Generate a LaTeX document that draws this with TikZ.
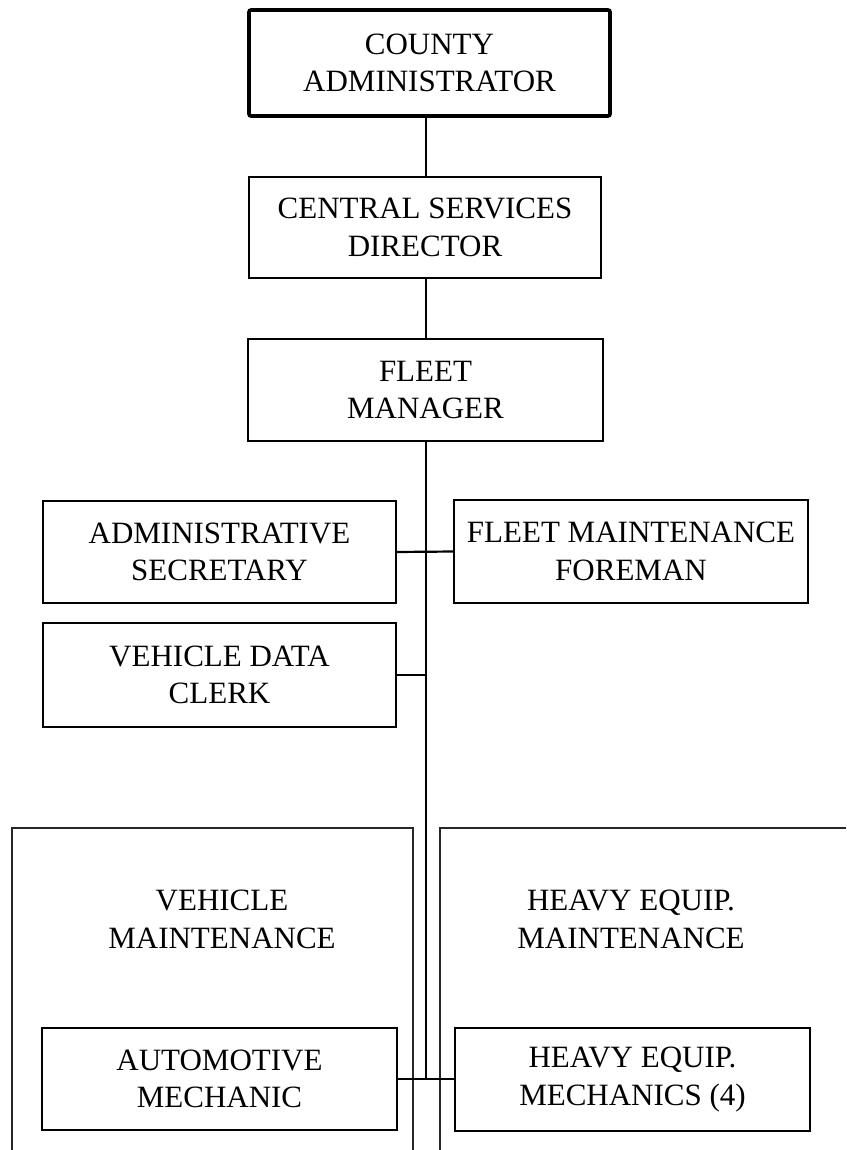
\documentclass[tikz,border=0pt]{standalone}
\usepackage{fontspec}
\setmainfont{Liberation Serif}
\begin{document}
\begin{tikzpicture}[x=1pt,y=-1pt,
  orgbox/.style={draw=black, line width=2.2pt, fill=white, rectangle,
    inner sep=0pt, outer sep=0pt, align=center,
    font=\fontsize{31}{37.5}\selectfont},
  topbox/.style={orgbox, line width=3.6pt, rounded corners=2pt},
  panellabel/.style={align=center, inner sep=0pt,
    font=\fontsize{31}{37.5}\selectfont},
  link/.style={draw=black, line width=2.2pt},
  panelline/.style={draw=black!85, line width=1.3pt}
]
% page frame
\fill[white] (0,0) rectangle (846,1150);
\useasboundingbox (0,0) rectangle (846,1150);

% the vertical spine of the chart
\coordinate (spine) at (426,0);

% section panels (open at the page edge)
\draw[panelline] (12,1150) -- (12,828) -- (413,828) -- (413,1150);
\draw[panelline] (846,828) -- (440,828) -- (440,1150);
\node[panellabel] (vmlabel) at (222,919.5) {VEHICLE\\MAINTENANCE};
\node[panellabel] (hmlabel) at (631,919.5) {HEAVY EQUIP.\\MAINTENANCE};

% positions
\node[topbox, minimum width=361pt, minimum height=106pt] (county) at (429.5,63)
  {COUNTY\\ADMINISTRATOR};
\node[orgbox, minimum width=352pt, minimum height=101pt] (central) at (425,227.5)
  {CENTRAL SERVICES\\DIRECTOR};
\node[orgbox, minimum width=355pt, minimum height=102pt] (fleet) at (425.5,390)
  {FLEET\\MANAGER};
\node[orgbox, minimum width=353pt, minimum height=102pt] (admin) at (219.5,552)
  {ADMINISTRATIVE\\SECRETARY};
\node[orgbox, minimum width=354pt, minimum height=103pt] (foreman) at (631,551.5)
  {FLEET MAINTENANCE\\FOREMAN};
\node[orgbox, minimum width=353pt, minimum height=104pt] (clerk) at (219.5,675)
  {VEHICLE DATA\\CLERK};
\node[orgbox, minimum width=355pt, minimum height=102pt] (auto) at (219.5,1079)
  {AUTOMOTIVE\\MECHANIC};
\node[orgbox, minimum width=355pt, minimum height=103pt] (mech) at (632.5,1079.5)
  {HEAVY EQUIP.\\MECHANICS (4)};

% reporting lines
\draw[link] (county.south -| spine) -- (central.north -| spine);
\draw[link] (central.south -| spine) -- (fleet.north -| spine);
\draw[link] (fleet.south -| spine) -- (auto.east -| spine);
\draw[link] (admin.east) -- (foreman.west);
\draw[link] (clerk.east) -- (clerk.east -| spine);
\draw[link] (auto.east) -- (auto.east -| mech.west);
\end{tikzpicture}
\end{document}
